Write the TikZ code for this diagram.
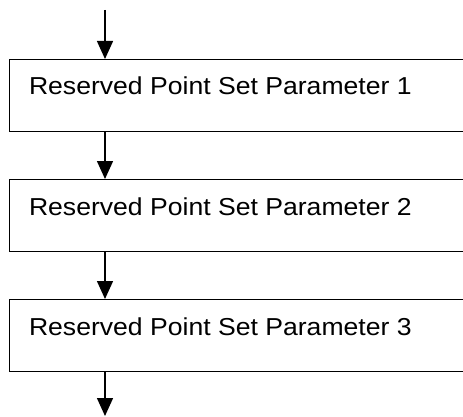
\documentclass[tikz,border=0pt]{standalone}
\usepackage{fontspec}
\setmainfont{Liberation Sans}
\usetikzlibrary{arrows.meta}
\begin{document}
\begin{tikzpicture}[x=1pt,y=-1pt,
  boxstyle/.style={draw,line width=1.4pt,rectangle,minimum width=480pt,minimum height=72pt,anchor=north west,inner sep=0pt},
  labelstyle/.style={anchor=base west,inner sep=0pt,font=\fontsize{24.5}{29}\selectfont},
  arr/.style={line width=1.4pt,-{Triangle[width=16pt,length=18pt]}}]
\useasboundingbox (0,0) rectangle (463,417);
\clip (0,0) rectangle (463,417);
\node[boxstyle] (b1) at (9,59) {};
\node[boxstyle] (b2) at (9,179) {};
\node[boxstyle] (b3) at (9,299) {};
\node[labelstyle] (t1) at (28.8,95) {\scalebox{1.085}[1]{Reserved Point Set Parameter 1}};
\node[labelstyle] (t2) at (28.8,215) {\scalebox{1.085}[1]{Reserved Point Set Parameter 2}};
\node[labelstyle] (t3) at (28.8,335) {\scalebox{1.085}[1]{Reserved Point Set Parameter 3}};
\coordinate (start) at (105,10);
\coordinate (finish) at (105,416);
\draw[arr] (start) -- (start |- b1.north);
\draw[arr] (start |- b1.south) -- (start |- b2.north);
\draw[arr] (start |- b2.south) -- (start |- b3.north);
\draw[arr] (start |- b3.south) -- (finish);
\end{tikzpicture}
\end{document}
